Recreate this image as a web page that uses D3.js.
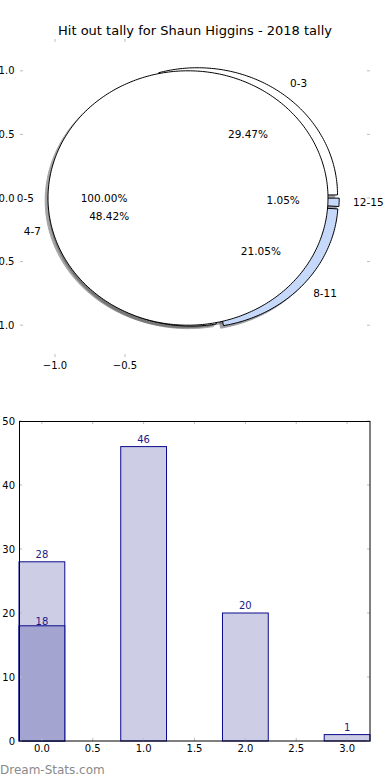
<!DOCTYPE html>
<html><head><meta charset="utf-8">
<script src="https://cdn.jsdelivr.net/npm/d3@7"></script>
<style>body{margin:0;background:#fff}svg{display:block;font-family:"DejaVu Sans",sans-serif}</style>
</head><body><svg id="c" width="390" height="780"></svg>
<script>
// ---------- data ----------
const chartTitle = "Hit out tally for Shaun Higgins - 2018 tally";
const outerLabels = ["0-3", "4-7", "8-11", "12-15"];
const outerValues = [28, 46, 20, 1];
const outerColors = ["#ffffff", "#ffffff", "#c6d9fb", "#c6d9fb"];
const outerExplode = [0.03, 0.03, 0.03, 0.03];
const innerLabels = ["0-5"];
const innerValues = [18];
const innerColors = ["#ffffff"];
const innerExplode = [0.05];
const pieXTicks = [-1.0, -0.5];
const pieYTicks = [1.0, 0.5, 0.0, -0.5, -1.0];

const barCats = [0, 1, 2, 3];
const barTotals = [28, 46, 20, 1];
const barSubCats = [0];
const barSubValues = [18];
const barXTicks = [0, 0.5, 1.0, 1.5, 2.0, 2.5, 3.0];
const barYTicks = [0, 10, 20, 30, 40, 50];

// ---------- setup ----------
const svg = d3.select("#c");
const fmt1 = d3.format(".1f");
const minus = s => s.replace("-", "\u2212");
const tickGray = "#bdbdbd";

// ---------- pie ----------
const px = d3.scaleLinear().domain([-1.25, 1.25]).range([20, 370]);
const py = d3.scaleLinear().domain([-1.25, 1.25]).range([357, 39]);
const pathLine = d3.line().x(d => px(d[0])).y(d => py(d[1]));

function wedges(values, explode, colors, labels) {
  const total = d3.sum(values);
  let acc = 0;
  return values.map((v, i) => {
    const t1 = acc / total * 360;
    acc += v;
    const t2 = acc / total * 360;
    const tm = (t1 + t2) / 2 * Math.PI / 180;
    const ox = explode[i] * Math.cos(tm), oy = explode[i] * Math.sin(tm);
    return {v, t1, t2, tm, ox, oy, color: colors[i], label: labels[i], pct: v / total * 100};
  });
}
function wedgePath(w, dx, dy) {
  const pts = [];
  const full = Math.abs(w.t2 - w.t1 - 360) < 1e-9;
  if (!full) pts.push([w.ox + dx, w.oy + dy]);
  const n = Math.max(4, Math.ceil((w.t2 - w.t1) / 1));
  for (let k = 0; k <= n; k++) {
    const a = (w.t1 + (w.t2 - w.t1) * k / n) * Math.PI / 180;
    pts.push([w.ox + dx + Math.cos(a), w.oy + dy + Math.sin(a)]);
  }
  return pathLine(pts) + "Z";
}
const outerW = wedges(outerValues, outerExplode, outerColors, outerLabels);
const innerW = wedges(innerValues, innerExplode, innerColors, innerLabels);
const shade = c => { const r = d3.rgb(c); return d3.rgb(r.r * 0.3, r.g * 0.3, r.b * 0.3).toString(); };

const pieG = svg.append("g");
// shadows first
pieG.selectAll("path.sh").data(outerW.concat(innerW)).join("path")
  .attr("class", "sh").attr("d", w => wedgePath(w, -0.02, -0.02))
  .attr("fill", w => shade(w.color)).attr("stroke", w => shade(w.color))
  .attr("stroke-width", 1).attr("opacity", 0.5);
pieG.selectAll("path.ow").data(outerW).join("path")
  .attr("class", "ow").attr("d", w => wedgePath(w, 0, 0))
  .attr("fill", w => w.color).attr("stroke", "#000").attr("stroke-width", 1)
  .attr("stroke-linejoin", "miter");
pieG.selectAll("path.iw").data(innerW).join("path")
  .attr("class", "iw").attr("d", w => wedgePath(w, 0, 0))
  .attr("fill", w => w.color).attr("stroke", "#000").attr("stroke-width", 1);

const allW = outerW.concat(innerW);
allW.forEach(w => {
  const lx = w.ox + 1.1 * Math.cos(w.tm), ly = w.oy + 1.1 * Math.sin(w.tm);
  pieG.append("text").attr("x", px(lx)).attr("y", py(ly)).attr("dy", "0.35em")
    .attr("text-anchor", lx > 0 ? "start" : "end").attr("font-size", 10.5).text(w.label);
  const qx = w.ox + 0.6 * Math.cos(w.tm), qy = w.oy + 0.6 * Math.sin(w.tm);
  pieG.append("text").attr("x", px(qx)).attr("y", py(qy)).attr("dy", "0.35em")
    .attr("text-anchor", "middle").attr("font-size", 10.5).text(w.pct.toFixed(2) + "%");
});

// pie axes ticks
pieYTicks.forEach(t => {
  pieG.append("line").attr("x1", 20).attr("x2", 23).attr("y1", py(t)).attr("y2", py(t)).attr("stroke", tickGray).attr("stroke-width", 1);
  pieG.append("line").attr("x1", 367).attr("x2", 370).attr("y1", py(t)).attr("y2", py(t)).attr("stroke", tickGray).attr("stroke-width", 1);
  pieG.append("text").attr("x", 14.5).attr("y", py(t)).attr("dy", "0.35em").attr("text-anchor", "end")
    .attr("font-size", 10).text(minus(fmt1(t)));
});
pieXTicks.forEach(t => {
  pieG.append("line").attr("x1", px(t)).attr("x2", px(t)).attr("y1", 39).attr("y2", 42).attr("stroke", tickGray).attr("stroke-width", 1);
  pieG.append("line").attr("x1", px(t)).attr("x2", px(t)).attr("y1", 354).attr("y2", 357).attr("stroke", tickGray).attr("stroke-width", 1);
  pieG.append("text").attr("x", px(t)).attr("y", 365).attr("dy", "0.35em").attr("text-anchor", "middle")
    .attr("font-size", 10).text(minus(fmt1(t)));
});
svg.append("text").attr("x", 195).attr("y", 30).attr("dy", "0.35em").attr("text-anchor", "middle")
  .attr("font-size", 13).text(chartTitle);

// ---------- bars ----------
const bw = 0.45;
const bx = d3.scaleLinear().domain([-0.225, 3.225]).range([19, 370]);
const by = d3.scaleLinear().domain([0, 50]).range([741, 421]);
const barG = svg.append("g");
const edge = "#0a0a8c", light = "#cdcde5", dark = "#a4a4d1", lblCol = "#1a1a8a";

barG.selectAll("rect.t").data(barCats).join("rect").attr("class", "t")
  .attr("x", (c) => bx(c - bw / 2)).attr("width", bx(bw) - bx(0))
  .attr("y", (c, i) => by(barTotals[i])).attr("height", (c, i) => by(0) - by(barTotals[i]))
  .attr("fill", light).attr("stroke", edge).attr("stroke-width", 1);
barG.selectAll("text.t").data(barCats).join("text").attr("class", "t")
  .attr("x", c => bx(c)).attr("y", (c, i) => by(barTotals[i]) - 4)
  .attr("text-anchor", "middle").attr("font-size", 10).attr("fill", lblCol)
  .text((c, i) => barTotals[i]);
barG.selectAll("rect.s").data(barSubCats).join("rect").attr("class", "s")
  .attr("x", c => bx(c - bw / 2)).attr("width", bx(bw) - bx(0))
  .attr("y", (c, i) => by(barSubValues[i])).attr("height", (c, i) => by(0) - by(barSubValues[i]))
  .attr("fill", dark).attr("stroke", edge).attr("stroke-width", 1);
barG.selectAll("text.s").data(barSubCats).join("text").attr("class", "s")
  .attr("x", c => bx(c)).attr("y", (c, i) => by(barSubValues[i]) - 0.5)
  .attr("text-anchor", "middle").attr("font-size", 10).attr("fill", lblCol)
  .text((c, i) => barSubValues[i]);

// ticks
barXTicks.forEach(t => {
  barG.append("line").attr("x1", bx(t)).attr("x2", bx(t)).attr("y1", 421).attr("y2", 424).attr("stroke", tickGray);
  barG.append("line").attr("x1", bx(t)).attr("x2", bx(t)).attr("y1", 738).attr("y2", 741).attr("stroke", tickGray);
  barG.append("text").attr("x", bx(t)).attr("y", 748).attr("dy", "0.35em").attr("text-anchor", "middle")
    .attr("font-size", 10).text(fmt1(t));
});
barYTicks.forEach(t => {
  barG.append("line").attr("x1", 19).attr("x2", 22).attr("y1", by(t)).attr("y2", by(t)).attr("stroke", tickGray);
  barG.append("line").attr("x1", 367).attr("x2", 370).attr("y1", by(t)).attr("y2", by(t)).attr("stroke", tickGray);
  barG.append("text").attr("x", 15).attr("y", by(t)).attr("dy", "0.35em").attr("text-anchor", "end")
    .attr("font-size", 10).text(t);
});
barG.append("rect").attr("x", 19.5).attr("y", 421.5).attr("width", 350.5).attr("height", 319.5)
  .attr("fill", "none").attr("stroke", "#000").attr("stroke-width", 1);

svg.append("text").attr("x", 0).attr("y", 770).attr("dy", "0.35em").attr("font-size", 12)
  .attr("fill", "#8a8a8a").text("Dream-Stats.com");
</script></body></html>
